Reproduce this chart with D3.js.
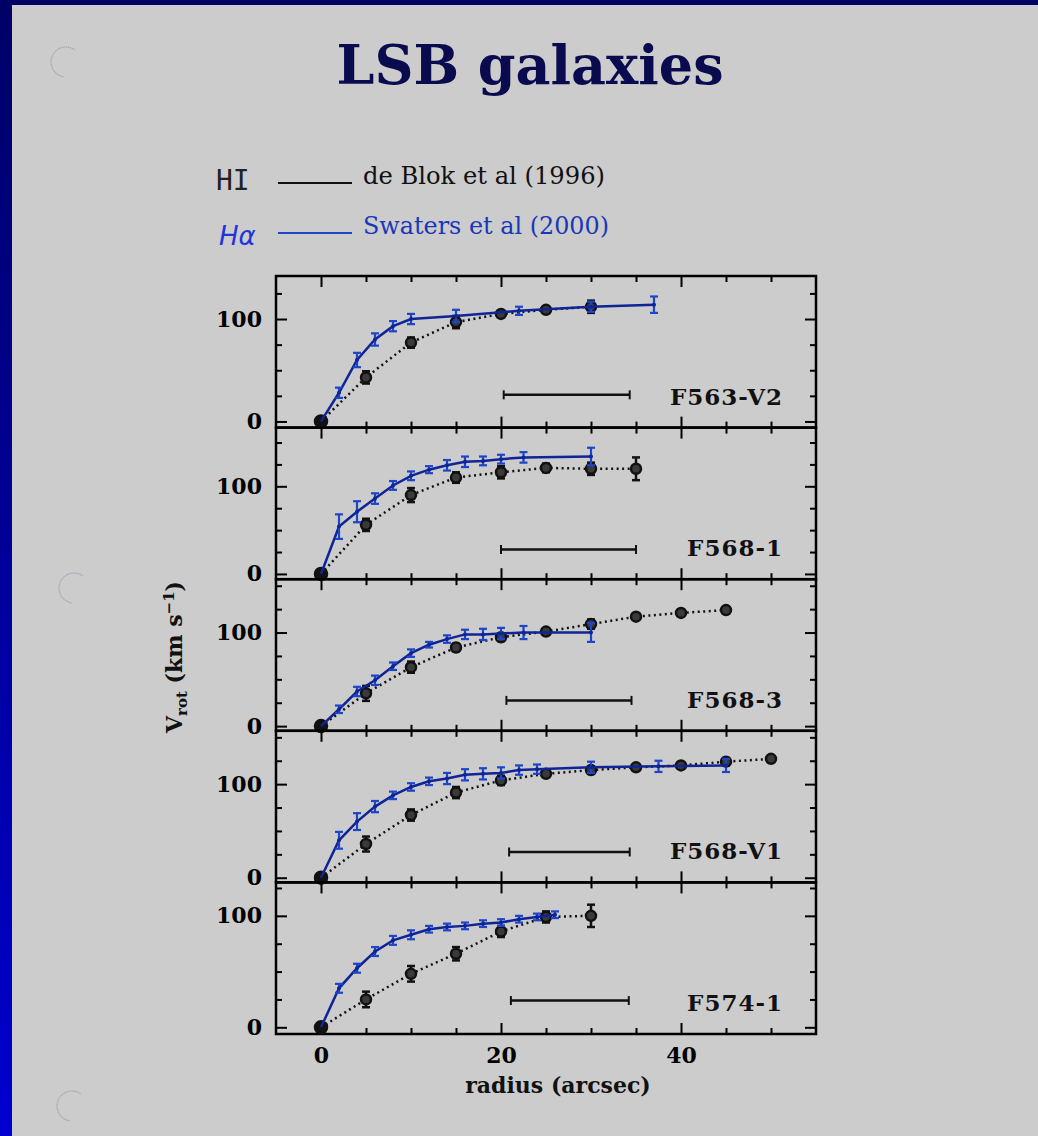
<!DOCTYPE html>
<html>
<head>
<meta charset="utf-8">
<script src="https://cdn.jsdelivr.net/npm/d3@7"></script>
<style>
  body { margin: 0; background: #cccccc; }
  svg { display: block; }
  .tick line { stroke: #000; stroke-width: 2; }
  .domain { display: none; }
</style>
</head>
<body>
<svg id="chart" width="1038" height="1136"></svg>
<script>
const galaxies = ['F563-V2', 'F568-1', 'F568-3', 'F568-V1', 'F574-1'];

// points are [radius (arcsec), Vrot (km/s), error]
const haF563V2 = [[0,0,0],[2,28,5],[4,60,7],[6,80,6],[8,93,5],[10,100,5],[15,103,6],[22,108,4],[30,112,5],[37,114,8]];
const hiF563V2 = [[0,0,0],[5,43,6],[10,77,5],[15,97,6],[20,105,3],[25,109,3],[30,112,6]];

const haF5681 = [[0,0,0],[2,54,14],[4,71,12],[6,86,6],[8,101,5],[10,112,5],[12,119,4],[14,124,6],[16,128,6],[18,129,5],[20,131,5],[22.5,133,6],[30,134,10]];
const hiF5681 = [[0,0,0],[5,56,7],[10,90,8],[15,110,6],[20,116,7],[25,121,5],[30,120,7],[35,120,13]];

const haF5683 = [[0,0,0],[2,18,4],[4,37,5],[6,49,5],[8,64,4],[10,78,4],[12,87,3],[14,93,4],[16,98,5],[18,98,6],[20,99,6],[22.5,100,7],[30,100,10]];
const hiF5683 = [[0,0,0],[5,35,8],[10,63,6],[15,84,4],[20,95,4],[25,101,3],[30,109,5],[35,117,3],[40,121,3],[45,124,3]];

const haF568V1 = [[0,0,0],[2,40,9],[4,60,9],[6,76,6],[8,88,4],[10,97,4],[12,103,4],[14,106,6],[16,110,6],[18,111,6],[20,112,6],[22,115,5],[24,116,5],[30,118,6],[37.5,119,6],[45,120,7]];
const hiF568V1 = [[0,0,0],[5,36,8],[10,67,6],[15,91,6],[20,104,5],[25,111,3],[30,115,4],[35,118,3],[40,120,3],[45,124,4],[50,127,3]];

const haF5741 = [[0,0,0],[2,35,4],[4,53,4],[6,68,4],[8,78,4],[10,83,4],[12,88,3],[14,90,3],[16,91,3],[18,93,3],[20,94,3],[22,97,3],[24,99,3],[26,101,3]];
const hiF5741 = [[0,0,0],[5,25,7],[10,48,7],[15,66,6],[20,86,5],[25,99,5],[30,100,10]];

const haSeries = [haF563V2, haF5681, haF5683, haF568V1, haF5741];
const hiSeries = [hiF563V2, hiF5681, hiF5683, hiF568V1, hiF5741];

// y range of each panel (km/s)
const yDomains = [[-6,142],[-6,167],[-5,157],[-5,157],[-6,130]];

// horizontal bar in each panel: [from, to, at Vrot]
const beamBars = [[20.3,34.3,26],[20,35,28],[20.6,34.5,27.5],[20.9,34.3,27.5],[21.1,34.2,24]];

const xMajor = [0, 20, 40];
const xMinor = [5, 10, 15, 25, 30, 35, 45, 50];
const yMajor = [0, 100];
const yMinor = [25, 50, 75, 125, 150];

const blueLine = '#0f2496';
const blueBar = '#1d45c8';
const serif = '"DejaVu Serif", serif';

const plotLeft = 276, plotRight = 816, plotTop = 276, panelH = 151.6;

const svg = d3.select('#chart');

// page background and border
let grad = svg.append('defs').append('linearGradient')
  .attr('id', 'edge').attr('x1', 0).attr('y1', 0).attr('x2', 0).attr('y2', 1);
grad.append('stop').attr('offset', '0%').attr('stop-color', '#000066');
grad.append('stop').attr('offset', '100%').attr('stop-color', '#0000d0');

svg.append('rect').attr('width', 1038).attr('height', 1136).attr('fill', '#cccccc');
svg.append('rect').attr('x', 0).attr('y', 0).attr('width', 12).attr('height', 1136).attr('fill', 'url(#edge)');
svg.append('rect').attr('x', 0).attr('y', 0).attr('width', 1038).attr('height', 5).attr('fill', '#000066');

// faint punch holes
[[66, 62], [74, 588], [72, 1106]].forEach((c) => {
  svg.append('path')
    .attr('d', d3.arc()({innerRadius: 15, outerRadius: 15, startAngle: -Math.PI * 0.95, endAngle: Math.PI * 0.2}))
    .attr('transform', 'translate(' + c[0] + ',' + c[1] + ')')
    .attr('fill', 'none')
    .attr('stroke', '#a8a8b4')
    .attr('stroke-width', 1.2)
    .attr('stroke-dasharray', '1.5,2.5');
});

// title
svg.append('text')
  .attr('x', 530).attr('y', 84)
  .attr('text-anchor', 'middle')
  .attr('font-family', serif)
  .attr('font-weight', 'bold')
  .attr('font-size', 54)
  .attr('fill', '#0a0a4e')
  .text('LSB galaxies');

// legend
svg.append('text')
  .attr('x', 216).attr('y', 190)
  .attr('font-family', '"DejaVu Sans Mono", monospace')
  .attr('font-size', 28)
  .attr('fill', '#222')
  .text('HI');
svg.append('text')
  .attr('x', 219).attr('y', 245)
  .attr('font-family', '"DejaVu Sans", sans-serif')
  .attr('font-style', 'italic')
  .attr('font-size', 26)
  .attr('fill', '#2233dd')
  .text('Hα');

svg.append('line').attr('x1', 278).attr('x2', 352).attr('y1', 183).attr('y2', 183)
  .attr('stroke', '#111').attr('stroke-width', 2);
svg.append('line').attr('x1', 278).attr('x2', 352).attr('y1', 233).attr('y2', 233)
  .attr('stroke', blueBar).attr('stroke-width', 2);

svg.append('text')
  .attr('x', 363).attr('y', 184)
  .attr('font-family', serif).attr('font-size', 24).attr('fill', '#111')
  .attr('textLength', 242).attr('lengthAdjust', 'spacingAndGlyphs')
  .text('de Blok et al (1996)');
svg.append('text')
  .attr('x', 363).attr('y', 234)
  .attr('font-family', serif).attr('font-size', 24).attr('fill', '#1838b8')
  .attr('textLength', 246).attr('lengthAdjust', 'spacingAndGlyphs')
  .text('Swaters et al (2000)');

const xScale = d3.scaleLinear().domain([-5, 55]).range([plotLeft, plotRight]);

function drawErrors(g, pts, y, color, width) {
  let e = pts.filter((d) => d[2] > 0);
  g.selectAll(null).data(e).enter().append('line')
    .attr('x1', (d) => xScale(d[0])).attr('x2', (d) => xScale(d[0]))
    .attr('y1', (d) => y(d[1] - d[2])).attr('y2', (d) => y(d[1] + d[2]))
    .attr('stroke', color).attr('stroke-width', width);
  [-1, 1].forEach((s) => {
    g.selectAll(null).data(e).enter().append('line')
      .attr('x1', (d) => xScale(d[0]) - 4).attr('x2', (d) => xScale(d[0]) + 4)
      .attr('y1', (d) => y(d[1] + s * d[2])).attr('y2', (d) => y(d[1] + s * d[2]))
      .attr('stroke', color).attr('stroke-width', width);
  });
}

galaxies.forEach((name, i) => {
  let y0 = plotTop + i * panelH;
  let y1 = y0 + panelH;
  let yScale = d3.scaleLinear().domain(yDomains[i]).range([y1, y0]);
  let g = svg.append('g').attr('class', 'panel');

  // inward ticks on all four sides
  [[yMinor, 6], [yMajor, 11]].forEach((t) => {
    let vals = t[0].filter((v) => v < yDomains[i][1]);
    g.append('g').attr('transform', 'translate(' + plotLeft + ',0)')
      .call(d3.axisRight(yScale).tickValues(vals).tickSize(t[1]).tickFormat(''));
    g.append('g').attr('transform', 'translate(' + plotRight + ',0)')
      .call(d3.axisLeft(yScale).tickValues(vals).tickSize(t[1]).tickFormat(''));
  });
  [[xMinor, 6], [xMajor, 11]].forEach((t) => {
    g.append('g').attr('transform', 'translate(0,' + y1 + ')')
      .call(d3.axisTop(xScale).tickValues(t[0]).tickSize(t[1]).tickFormat(''));
    g.append('g').attr('transform', 'translate(0,' + y0 + ')')
      .call(d3.axisBottom(xScale).tickValues(t[0]).tickSize(t[1]).tickFormat(''));
  });

  // y labels
  g.append('g').attr('transform', 'translate(' + plotLeft + ',0)')
    .call(d3.axisLeft(yScale).tickValues(yMajor).tickSize(0).tickPadding(14))
    .call((a) => a.selectAll('text')
      .attr('font-family', serif).attr('font-weight', 'bold')
      .attr('font-size', 22).attr('fill', '#000'));

  // frame
  g.append('rect')
    .attr('x', plotLeft).attr('y', y0)
    .attr('width', plotRight - plotLeft).attr('height', panelH)
    .attr('fill', 'none').attr('stroke', '#000').attr('stroke-width', 2.5);

  // beam bar
  let b = beamBars[i];
  g.append('line')
    .attr('x1', xScale(b[0])).attr('x2', xScale(b[1]))
    .attr('y1', yScale(b[2])).attr('y2', yScale(b[2]))
    .attr('stroke', '#111').attr('stroke-width', 2.5);
  [b[0], b[1]].forEach((v) => {
    g.append('line')
      .attr('x1', xScale(v)).attr('x2', xScale(v))
      .attr('y1', yScale(b[2]) - 4.5).attr('y2', yScale(b[2]) + 4.5)
      .attr('stroke', '#111').attr('stroke-width', 2);
  });

  // galaxy name
  g.append('text')
    .attr('x', plotRight - 33).attr('y', y1 - 23)
    .attr('text-anchor', 'end')
    .attr('font-family', serif).attr('font-weight', 'bold').attr('font-size', 23)
    .attr('letter-spacing', 1)
    .attr('fill', '#111')
    .text(name);

  let line = d3.line().x((d) => xScale(d[0])).y((d) => yScale(d[1]));

  // HI: dotted line, error bars, circles
  g.append('path').datum(hiSeries[i])
    .attr('d', line)
    .attr('fill', 'none').attr('stroke', '#111')
    .attr('stroke-width', 2.5).attr('stroke-dasharray', '2,3.5');
  drawErrors(g, hiSeries[i], yScale, '#111', 2.5);
  g.selectAll(null).data(hiSeries[i]).enter().append('circle')
    .attr('cx', (d) => xScale(d[0])).attr('cy', (d) => yScale(d[1]))
    .attr('r', (d) => d[0] === 0 ? 6 : 5)
    .attr('fill', (d) => d[0] === 0 ? '#111' : '#3a3a3a')
    .attr('stroke', '#111').attr('stroke-width', 2.5);

  // H-alpha: solid line, error bars
  g.append('path').datum(haSeries[i])
    .attr('d', line)
    .attr('fill', 'none').attr('stroke', blueLine).attr('stroke-width', 2.5);
  drawErrors(g, haSeries[i], yScale, blueBar, 2.2);
  g.selectAll(null).data(haSeries[i].filter((d) => d[0] > 0)).enter().append('circle')
    .attr('cx', (d) => xScale(d[0])).attr('cy', (d) => yScale(d[1]))
    .attr('r', 2).attr('fill', blueLine);
});

// x labels under the bottom panel
let xBottom = plotTop + galaxies.length * panelH;
svg.append('g').attr('transform', 'translate(0,' + xBottom + ')')
  .call(d3.axisBottom(xScale).tickValues(xMajor).tickSize(0).tickPadding(13))
  .call((a) => a.selectAll('text')
    .attr('font-family', serif).attr('font-weight', 'bold')
    .attr('font-size', 22).attr('fill', '#000'));

svg.append('text')
  .attr('x', 558).attr('y', xBottom + 59)
  .attr('text-anchor', 'middle')
  .attr('font-family', serif).attr('font-weight', 'bold').attr('font-size', 22)
  .attr('fill', '#111')
  .text('radius (arcsec)');

// y axis title
let yt = svg.append('text')
  .attr('transform', 'translate(182,657) rotate(-90)')
  .attr('text-anchor', 'middle')
  .attr('font-family', serif).attr('font-weight', 'bold').attr('font-size', 22)
  .attr('fill', '#111');
yt.append('tspan').text('V');
yt.append('tspan').attr('font-size', 15).attr('dy', 5).text('rot');
yt.append('tspan').attr('dy', -5).text(' (km s');
yt.append('tspan').attr('font-size', 15).attr('dy', -8).text('−1');
yt.append('tspan').attr('dy', 8).text(')');
</script>
</body>
</html>
